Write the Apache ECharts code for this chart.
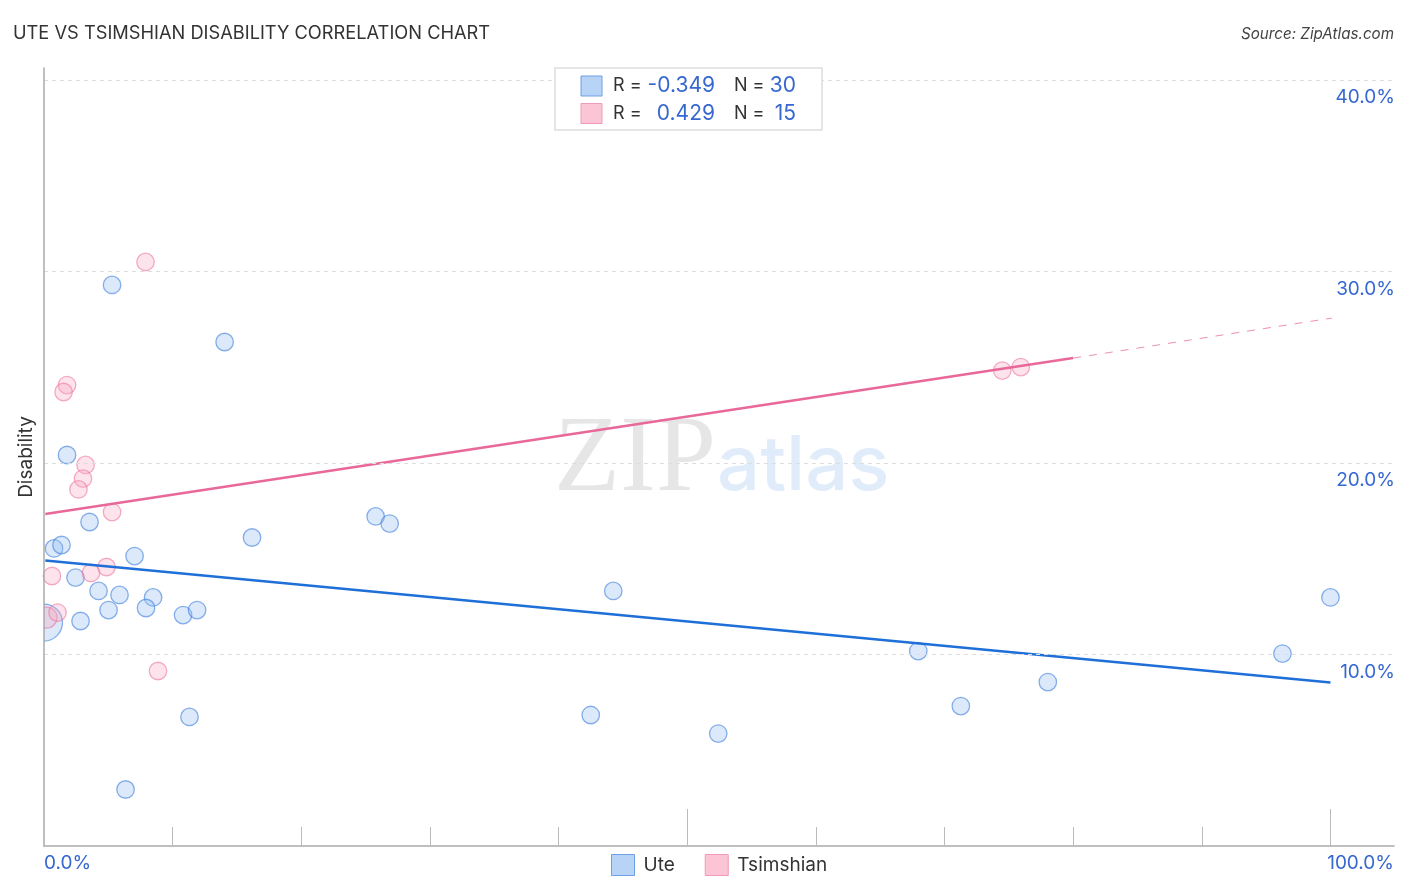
<!DOCTYPE html>
<html lang="en">
<head>
    <meta charset="utf-8" />
    <title>Ute vs Tsimshian</title>
    <script src="https://cdn.jsdelivr.net/npm/echarts@6/dist/echarts.min.js"></script>
    <style>
        html, body { margin: 0; padding: 0; background: #fff; }
    </style>
</head>
<body>
    <div id="main" style="width: 1406px;height:892px;"></div>
    <script type="text/javascript">
        const uteX = [5.29, 14.04, 1.79, 3.54, 0.78, 1.36, 7.04, 2.45, 4.24, 5.87, 8.48, 7.93, 5.02, 10.81, 11.9, 2.84, 16.17, 25.78, 26.87, 44.25, 11.31, 42.5, 52.41, 6.34, 67.96, 71.27, 78.03, 96.27, 100];
        const uteY = [29.3, 26.32, 20.42, 16.92, 15.54, 15.72, 15.14, 14.02, 13.32, 13.11, 12.98, 12.43, 12.32, 12.06, 12.32, 11.75, 16.11, 17.21, 16.84, 13.32, 6.74, 6.84, 5.87, 2.95, 10.18, 7.31, 8.56, 10.05, 12.98];
        const tsiX = [7.89, 1.79, 1.52, 3.23, 3.03, 2.68, 5.29, 4.86, 3.65, 0.62, 1.05, 8.86, 74.49, 75.93];
        const tsiY = [30.5, 24.07, 23.71, 19.9, 19.19, 18.62, 17.44, 14.57, 14.26, 14.1, 12.19, 9.14, 24.83, 25.01];

        // the two heavy points sitting on the axis, cut off by the plot edge
        const uteBigPoint = [0, 11.67];
        const tsiBigPoint = [0.2, 11.93];

        const uteTrendX = [0.1, 100];
        const uteTrendY = [14.91, 8.54];
        const tsiTrendX = [0.1, 80];
        const tsiTrendY = [17.34, 25.48];
        const tsiDashX = [80, 100.1];
        const tsiDashY = [25.48, 27.57];

        const yTicks = [10, 20, 30, 40];
        const xTicks = [10, 20, 30, 40, 50, 60, 70, 80, 90, 100];
        const xLongTicks = [50, 100];
        const legendR = ['-0.349', '0.429'];
        const legendN = ['30', '15'];

        const xMax = 104.94;
        const yMax = 40.63;
        const uiFont = 'Inter';
        const blue = '#3668d0';
        const uteStyle = { color: 'rgba(147,188,240,0.33)', borderColor: 'rgba(60,125,220,0.6)', borderWidth: 1.3, opacity: 1 };
        const tsiStyle = { color: 'rgba(248,170,195,0.33)', borderColor: 'rgba(235,110,155,0.55)', borderWidth: 1.3, opacity: 1 };

        const zip = (xs, ys) => xs.map((x, i) => [x, ys[i]]);

        var myChart = echarts.init(document.getElementById('main'));

        function legendRow(y, swatchFill, swatchLine, r, n) {
            return [
                { type: 'rect', z: 121, shape: { x: 581, y: y - 10, width: 21, height: 20 }, style: { fill: swatchFill, stroke: swatchLine, lineWidth: 1 } },
                { type: 'text', z: 121, x: 613, y: y, style: { text: 'R =', font: '18px ' + uiFont, fill: '#333', verticalAlign: 'middle' } },
                { type: 'text', z: 121, x: 715, y: y, style: { text: r, font: '21px ' + uiFont, fill: blue, align: 'right', verticalAlign: 'middle' } },
                { type: 'text', z: 121, x: 734, y: y, style: { text: 'N =', font: '18px ' + uiFont, fill: '#333', verticalAlign: 'middle' } },
                { type: 'text', z: 121, x: 796, y: y, style: { text: n, font: '21px ' + uiFont, fill: blue, align: 'right', verticalAlign: 'middle' } }
            ];
        }

        function bigPointSeries(name, point, radius, st) {
            return {
                name: name, type: 'custom', data: [point], clip: true, silent: true, z: 3,
                renderItem: function (params, api) {
                    const c = api.coord([api.value(0), api.value(1)]);
                    return {
                        type: 'circle',
                        shape: { cx: c[0], cy: c[1], r: radius },
                        style: { fill: st.color, stroke: st.borderColor, lineWidth: st.borderWidth }
                    };
                }
            };
        }

        option = {
            animation: false,
            backgroundColor: '#fff',
            title: [
                { text: 'UTE VS TSIMSHIAN DISABILITY CORRELATION CHART', left: 13, top: 25, padding: 0, textStyle: { fontFamily: uiFont, fontSize: 18.25, fontWeight: 'normal', color: '#333' } },
                { text: 'Source: ZipAtlas.com', right: 12, top: 27, padding: 0, textStyle: { fontFamily: uiFont, fontSize: 15.2, fontWeight: 'normal', fontStyle: 'italic', color: '#444' } }
            ],
            grid: { left: 44, right: 12, top: 68, bottom: 46 },
            legend: {
                left: 606,
                top: 849,
                itemWidth: 23,
                itemHeight: 21,
                itemGap: 30,
                icon: 'rect',
                textStyle: { fontFamily: uiFont, fontSize: 19, color: '#333', padding: [0, 0, 0, 4] },
                data: [
                    { name: 'Ute', itemStyle: { color: '#b7d3f6', borderColor: '#6f9fe6', borderWidth: 1, opacity: 1 } },
                    { name: 'Tsimshian', itemStyle: { color: '#fcc5d6', borderColor: '#f09ab8', borderWidth: 1, opacity: 1 } }
                ]
            },
            xAxis: [
                {
                    type: 'value', min: 0, max: xMax, interval: 10,
                    axisLine: { show: true, onZero: false, lineStyle: { color: '#aaa', width: 1.5 } },
                    axisTick: { show: true, inside: true, length: 19, customValues: xTicks, lineStyle: { color: '#bbb', width: 1 } },
                    splitLine: { show: false },
                    axisLabel: {
                        show: true, customValues: [0, xMax], alignMinLabel: 'left', alignMaxLabel: 'right', margin: 8,
                        fontFamily: uiFont, fontSize: 19, color: blue,
                        formatter: v => (v === 0 ? '0.0%' : '100.0%')
                    }
                },
                {
                    type: 'value', min: 0, max: xMax, position: 'bottom',
                    axisLine: { show: false },
                    axisTick: { show: true, inside: true, length: 37, customValues: xLongTicks, lineStyle: { color: '#bbb', width: 1 } },
                    splitLine: { show: false },
                    axisLabel: { show: false }
                }
            ],
            yAxis: [
                {
                    type: 'value', min: 0, max: yMax, interval: 10, z: 10,
                    name: 'Disability', nameLocation: 'middle', nameGap: 8,
                    nameTextStyle: { fontFamily: uiFont, fontSize: 19, color: '#333' },
                    axisLine: { show: true, onZero: false, lineStyle: { color: '#aaa', width: 1.5 } },
                    axisTick: { show: false },
                    axisLabel: { show: false },
                    splitLine: { show: true, showMinLine: false, showMaxLine: false, lineStyle: { color: '#ddd', type: [4, 4], width: 1 } }
                },
                {
                    type: 'value', min: 0, max: yMax, position: 'right',
                    axisLine: { show: false },
                    axisTick: { show: false },
                    splitLine: { show: false },
                    axisLabel: {
                        show: true, inside: true, margin: -1, customValues: yTicks,
                        verticalAlign: 'top', padding: [8, 0, 0, 0],
                        fontFamily: uiFont, fontSize: 19, color: blue,
                        formatter: v => v.toFixed(1) + '%'
                    }
                }
            ],
            series: [
                bigPointSeries('Ute heavy point', uteBigPoint, 18.5, uteStyle),
                bigPointSeries('Tsimshian heavy point', tsiBigPoint, 10.5, tsiStyle),
                {
                    name: 'Ute', type: 'scatter', data: zip(uteX, uteY),
                    symbolSize: 17.5,
                    itemStyle: uteStyle,
                    z: 3
                },
                {
                    name: 'Tsimshian', type: 'scatter', data: zip(tsiX, tsiY),
                    symbolSize: 17.5,
                    itemStyle: tsiStyle,
                    z: 4
                },
                {
                    name: 'Ute trend', type: 'line', data: zip(uteTrendX, uteTrendY), showSymbol: false, silent: true,
                    lineStyle: { color: '#1f6fd8', width: 2.5 }, z: 5
                },
                {
                    name: 'Tsimshian trend', type: 'line', data: zip(tsiTrendX, tsiTrendY), showSymbol: false, silent: true,
                    lineStyle: { color: '#e9689a', width: 2.5 }, z: 5
                },
                {
                    name: 'Tsimshian projection', type: 'line', data: zip(tsiDashX, tsiDashY), showSymbol: false, silent: true,
                    lineStyle: { color: '#e9689a', width: 1, type: [8, 8], opacity: 0.75 }, z: 5
                }
            ],
            graphic: [
                { type: 'text', x: 554, y: 408, z: -1, style: { text: 'ZIP', font: '108px "Liberation Serif"', fill: 'rgba(200,200,200,0.45)' } },
                { type: 'text', x: 717, y: 429, z: -1, style: { text: 'atlas', font: '500 76px ' + uiFont, fill: 'rgba(170,200,240,0.35)' } },
                { type: 'rect', z: 120, shape: { x: 555, y: 68, width: 267, height: 62 }, style: { fill: '#fff', stroke: '#ddd', lineWidth: 1.5 } },
                { type: 'group', children: legendRow(86, '#b7d3f6', '#6f9fe6', legendR[0], legendN[0]).concat(legendRow(113.5, '#fcc5d6', '#f09ab8', legendR[1], legendN[1])) }
            ]
        };

        myChart.setOption(option);
    </script>
</body>
</html>
